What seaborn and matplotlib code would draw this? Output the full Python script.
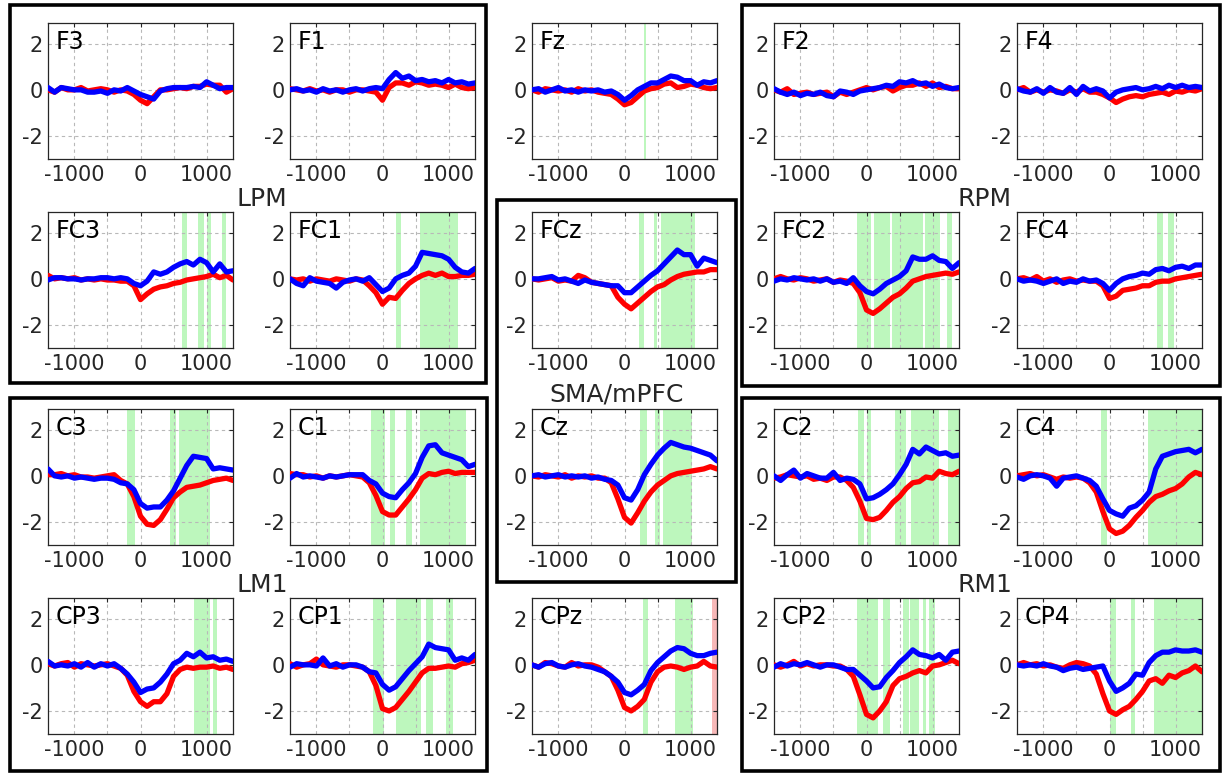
import numpy as np
import pandas as pd
import matplotlib
matplotlib.use('Agg')
import matplotlib.pyplot as plt
from matplotlib.patches import Rectangle
import seaborn as sns

# time axis (ms)
times = list(range(-1400, 1401, 100))

# ---- ERP traces (red = condition A, blue = condition B) ----
F3_red = [0, -0.1, 0.1, 0, 0, 0.1, -0.05, 0, 0.05, 0, -0.1, 0, -0.05, -0.2, -0.45, -0.6, -0.3, 0, 0, 0.05, 0.1, 0.05, 0.15, 0.15, 0.25, 0.2, 0.2, -0.1, 0.05]
F3_blue = [0.1, -0.1, 0.1, 0.05, 0, 0, -0.1, -0.1, -0.05, -0.15, 0, -0.05, 0.1, -0.05, -0.2, -0.3, -0.4, -0.05, 0.05, 0.1, 0.1, 0.1, 0.15, 0.1, 0.35, 0.2, 0.05, 0.1, 0.1]
F1_red = [0.05, 0, -0.05, 0.05, -0.05, 0, -0.1, 0, 0, -0.1, 0, 0, -0.05, -0.1, -0.45, 0.1, 0.3, 0.3, 0.2, 0.35, 0.3, 0.2, 0.25, 0.2, 0.1, 0.25, 0.1, 0.05, 0.1]
F1_blue = [0, 0.05, -0.05, 0, -0.1, 0.05, -0.05, 0, -0.1, 0, 0.05, -0.05, 0.05, 0.1, 0.05, 0.45, 0.75, 0.5, 0.6, 0.4, 0.45, 0.35, 0.4, 0.3, 0.45, 0.3, 0.35, 0.25, 0.3]
Fz_red = [0, -0.1, 0.05, 0, -0.05, 0, -0.1, 0.05, -0.05, 0, -0.1, -0.15, -0.2, -0.4, -0.65, -0.55, -0.3, -0.05, 0.05, 0.1, 0.25, 0.3, 0.1, 0.15, 0.25, 0.2, 0.1, 0.05, 0.1]
Fz_blue = [0, 0.05, -0.1, 0, 0.1, -0.05, 0, -0.1, 0, -0.05, 0, -0.1, -0.05, -0.2, -0.45, -0.25, 0, 0.15, 0.3, 0.3, 0.45, 0.6, 0.55, 0.4, 0.4, 0.2, 0.35, 0.3, 0.4]
F2_red = [0, -0.1, 0.05, -0.2, -0.15, -0.1, -0.2, -0.15, -0.1, -0.3, -0.1, -0.2, -0.1, 0, 0.1, 0, 0.1, 0.15, -0.05, 0.1, 0.2, 0.2, 0.3, 0.15, 0.3, 0.1, 0.15, 0.05, 0.05]
F2_blue = [0.05, -0.1, -0.2, -0.1, -0.25, -0.15, -0.2, -0.1, -0.25, -0.3, -0.05, -0.1, -0.2, -0.05, 0, 0.05, 0.1, 0.2, 0.15, 0.35, 0.3, 0.4, 0.25, 0.3, 0.15, 0.25, 0.1, 0.05, 0.1]
F4_red = [0, 0.1, -0.1, 0, -0.1, 0, -0.05, -0.15, 0, -0.1, 0.05, -0.1, -0.1, -0.2, -0.35, -0.55, -0.4, -0.3, -0.25, -0.3, -0.2, -0.15, -0.1, -0.2, -0.05, -0.1, 0, -0.05, 0.05]
F4_blue = [0.05, -0.05, -0.1, 0.05, -0.15, 0.1, -0.1, -0.15, 0.1, -0.2, 0.15, -0.05, 0.05, -0.05, -0.35, -0.1, 0, 0.05, 0.1, 0, 0.05, 0.15, 0.05, 0.2, 0.1, 0.2, 0.1, 0.15, 0.1]

FC3_red = [0.15, 0, 0.05, 0, 0.05, -0.05, 0, -0.05, 0, -0.05, -0.05, -0.1, -0.1, -0.3, -0.9, -0.65, -0.45, -0.35, -0.3, -0.2, -0.15, -0.05, 0, 0.05, 0.1, 0.2, 0.05, 0.15, -0.05]
FC3_blue = [-0.05, 0.05, 0.05, 0, 0, -0.05, 0, 0, 0.05, 0.05, 0, 0.05, 0, -0.2, -0.3, -0.1, 0.3, 0.2, 0.3, 0.5, 0.65, 0.75, 0.6, 0.85, 0.7, 0.3, 0.65, 0.3, 0.35]
FC1_red = [0, -0.05, 0, -0.1, 0, -0.05, -0.1, 0, -0.05, -0.1, 0, -0.05, -0.3, -0.6, -1.1, -0.8, -0.85, -0.5, -0.2, 0, 0.15, 0.25, 0.15, 0.25, 0.1, 0.1, 0.15, 0.15, 0.2]
FC1_blue = [0, -0.2, -0.3, 0.05, -0.1, -0.15, -0.2, -0.4, -0.15, -0.05, 0, -0.1, 0.05, -0.25, -0.55, -0.4, 0, 0.15, 0.25, 0.55, 1.15, 1.1, 1.05, 1.0, 0.85, 0.5, 0.3, 0.25, 0.45]
FCz_red = [0, -0.05, 0, 0.05, -0.1, -0.05, -0.1, 0.15, 0.05, -0.15, -0.2, -0.25, -0.3, -0.8, -1.1, -1.3, -1.05, -0.8, -0.55, -0.35, -0.25, -0.05, 0.1, 0.2, 0.25, 0.3, 0.3, 0.4, 0.4]
FCz_blue = [0, 0, 0.05, 0.1, -0.05, 0, -0.1, -0.2, -0.05, -0.15, -0.2, -0.25, -0.3, -0.3, -0.6, -0.6, -0.35, -0.1, 0.15, 0.35, 0.65, 0.95, 1.25, 1.05, 1.05, 0.55, 0.9, 0.8, 0.7]
FC2_red = [0, 0.1, 0, -0.05, 0.05, 0, -0.1, -0.05, 0, -0.15, -0.05, -0.1, -0.2, -0.6, -1.35, -1.5, -1.3, -1.05, -0.8, -0.65, -0.4, -0.1, 0, 0.1, 0.15, 0.2, 0.25, 0.2, 0.3]
FC2_blue = [-0.1, 0, -0.05, 0.05, 0, -0.05, 0, -0.1, 0, -0.15, -0.1, -0.2, 0.05, -0.3, -0.55, -0.65, -0.45, -0.2, -0.05, 0.1, 0.35, 0.95, 0.85, 0.85, 1.0, 0.8, 0.75, 0.45, 0.7]
FC4_red = [0, 0.05, -0.05, 0.1, -0.1, 0, -0.15, -0.05, 0, -0.1, -0.05, -0.1, -0.1, -0.3, -0.85, -0.75, -0.5, -0.45, -0.4, -0.3, -0.3, -0.15, -0.1, -0.1, 0, 0.05, 0.1, 0.15, 0.2]
FC4_blue = [0, -0.1, -0.05, -0.1, -0.2, -0.1, 0, -0.2, -0.1, -0.15, 0, -0.1, -0.05, -0.2, -0.5, -0.2, 0, 0.1, 0.15, 0.25, 0.2, 0.4, 0.45, 0.35, 0.5, 0.55, 0.45, 0.6, 0.6]

C3_red = [0.05, 0.05, 0.1, 0, 0.05, -0.05, -0.05, -0.1, -0.05, 0, 0.05, -0.2, -0.35, -0.9, -1.75, -2.1, -2.15, -1.9, -1.45, -0.95, -0.7, -0.5, -0.45, -0.4, -0.3, -0.2, -0.15, -0.1, -0.2]
C3_blue = [0.3, 0, -0.05, 0, -0.1, -0.05, -0.1, -0.15, -0.1, -0.1, -0.15, -0.3, -0.35, -0.6, -1.2, -1.4, -1.35, -1.35, -1.05, -0.65, -0.1, 0.45, 0.85, 0.8, 0.75, 0.3, 0.35, 0.3, 0.25]
C1_red = [0.1, 0.05, 0.05, -0.05, 0, -0.1, 0, -0.05, 0, 0.05, 0, -0.05, -0.3, -0.85, -1.55, -1.7, -1.7, -1.35, -1.0, -0.6, -0.1, 0.1, 0.05, 0.15, 0.2, 0.1, 0.15, 0.15, 0.15]
C1_blue = [-0.1, 0.1, -0.05, 0, -0.05, -0.1, 0, -0.05, 0, 0.05, 0.05, 0.05, -0.2, -0.35, -0.75, -0.9, -0.95, -0.6, -0.3, 0.1, 0.8, 1.3, 1.35, 1.0, 0.9, 0.8, 0.7, 0.4, 0.5]
Cz_red = [0, -0.05, 0.05, 0, -0.05, 0.05, -0.1, 0, -0.05, 0, -0.1, -0.1, -0.3, -1.0, -1.8, -2.05, -1.6, -1.1, -0.7, -0.4, -0.2, 0, 0.1, 0.15, 0.2, 0.25, 0.3, 0.4, 0.3]
Cz_blue = [0, 0.05, -0.05, 0, 0.05, -0.05, 0, -0.05, 0, -0.1, -0.05, -0.15, -0.2, -0.4, -0.95, -1.05, -0.6, 0.05, 0.5, 0.9, 1.2, 1.45, 1.35, 1.25, 1.2, 1.1, 1.0, 0.9, 0.65]
C2_red = [-0.1, -0.05, 0.05, 0, -0.05, 0, -0.15, -0.1, -0.2, -0.05, -0.05, -0.2, -0.5, -1.1, -1.85, -1.9, -1.8, -1.5, -1.15, -0.9, -0.55, -0.3, -0.25, -0.05, -0.1, 0.2, 0.1, 0.05, 0.2]
C2_blue = [0, -0.2, 0.05, 0.25, -0.1, 0.1, 0, -0.1, -0.1, 0.15, -0.2, -0.1, -0.15, -0.35, -1.0, -0.95, -0.8, -0.6, -0.35, 0.05, 0.5, 1.15, 0.95, 1.25, 1.1, 0.95, 1.0, 0.85, 0.9]
C4_red = [0, 0.05, 0.1, 0, 0.05, -0.05, -0.15, -0.05, -0.1, -0.05, -0.1, -0.3, -0.7, -1.55, -2.3, -2.5, -2.4, -2.15, -1.8, -1.5, -1.15, -0.9, -0.8, -0.65, -0.55, -0.35, -0.05, 0.15, 0.05]
C4_blue = [-0.05, -0.15, 0, 0.05, 0, -0.1, -0.45, -0.1, -0.05, 0, -0.1, -0.2, -0.45, -1.0, -1.5, -1.65, -1.75, -1.4, -1.3, -1.05, -0.7, 0.3, 0.85, 0.95, 1.05, 1.1, 1.15, 1.0, 1.15]

CP3_red = [0.05, -0.05, 0.05, 0.1, -0.1, 0.05, 0, -0.05, 0, 0.05, -0.05, -0.15, -0.45, -1.15, -1.6, -1.8, -1.6, -1.6, -1.25, -0.5, -0.2, -0.1, -0.15, -0.1, -0.1, -0.05, -0.15, -0.1, -0.2]
CP3_blue = [0.15, -0.05, 0, -0.05, 0.05, -0.1, 0.1, -0.1, 0.05, -0.05, 0.05, -0.15, -0.4, -0.75, -1.2, -1.05, -1.0, -0.75, -0.4, 0.05, 0.2, 0.5, 0.35, 0.55, 0.3, 0.35, 0.2, 0.25, 0.15]
CP1_red = [0.05, -0.1, 0, 0.05, 0.25, 0, -0.05, -0.1, 0, 0, -0.05, -0.1, -0.3, -0.9, -1.9, -2.0, -1.85, -1.5, -1.15, -0.75, -0.35, -0.15, -0.15, -0.1, -0.05, -0.1, 0.05, 0.1, 0.2]
CP1_blue = [-0.1, 0.05, 0, 0, -0.05, 0.3, -0.05, 0.05, -0.1, 0, 0, -0.1, -0.3, -0.35, -0.85, -1.1, -0.95, -0.6, -0.25, 0.05, 0.35, 0.9, 0.75, 0.7, 0.65, 0.2, 0.3, 0.2, 0.45]
CPz_red = [0, -0.1, 0.1, 0.05, -0.05, -0.1, 0.1, -0.05, 0, 0, -0.1, -0.3, -0.5, -1.1, -1.85, -2.0, -1.8, -1.5, -0.75, -0.3, -0.1, -0.05, -0.1, -0.2, -0.1, -0.05, 0.15, -0.05, -0.1]
CPz_blue = [0, -0.1, 0.05, 0.1, -0.05, -0.1, 0, 0.05, -0.05, -0.1, -0.2, -0.3, -0.5, -0.75, -1.2, -1.3, -1.1, -0.85, -0.25, 0.1, 0.35, 0.6, 0.75, 0.7, 0.5, 0.4, 0.4, 0.5, 0.55]
CP2_red = [0, -0.1, 0, 0.15, -0.05, 0.05, -0.05, 0, 0, -0.05, -0.05, -0.2, -0.5, -1.3, -2.15, -2.3, -2.0, -1.6, -0.9, -0.6, -0.5, -0.35, -0.25, -0.35, -0.05, 0, 0.1, 0.2, 0.05]
CP2_blue = [-0.1, 0.05, -0.05, 0.05, 0, 0.1, 0, -0.1, 0, 0, -0.1, -0.2, -0.2, -0.45, -0.7, -1.0, -0.95, -0.55, -0.25, 0.1, 0.35, 0.65, 0.45, 0.4, 0.3, 0.45, 0.2, 0.55, 0.6]
CP4_red = [0, 0.1, 0, 0.05, -0.05, 0, -0.1, -0.15, 0, 0.1, 0.05, -0.05, -0.4, -1.25, -2.0, -2.15, -1.95, -1.8, -1.5, -1.15, -0.7, -0.6, -0.8, -0.45, -0.55, -0.35, -0.25, -0.05, -0.3]
CP4_blue = [0, -0.05, 0, -0.05, 0.05, -0.05, -0.1, -0.25, -0.15, -0.1, -0.2, -0.15, -0.1, -0.05, -0.7, -1.15, -1.0, -0.8, -0.4, -0.45, 0.1, 0.4, 0.55, 0.55, 0.65, 0.6, 0.6, 0.65, 0.55]

# significant windows (ms): green = B > A, pink = A > B
green_spans = {
    'Fz': [(290, 320)],
    'FC3': [(630, 700), (870, 960), (1005, 1065), (1235, 1295)],
    'FC1': [(200, 280), (560, 1140)],
    'FCz': [(215, 295), (440, 490), (555, 1060)],
    'FC2': [(-145, 65), (120, 350), (385, 850), (890, 1110), (1220, 1290)],
    'FC4': [(720, 810), (885, 975)],
    'C3': [(-200, -90), (445, 535), (590, 1050)],
    'C1': [(-170, 45), (120, 195), (350, 450), (560, 1270)],
    'Cz': [(240, 345), (465, 540), (585, 1025)],
    'C2': [(-125, -35), (5, 70), (435, 605), (675, 1100), (1230, 1400)],
    'C4': [(-130, -40), (590, 1400)],
    'CP3': [(815, 1045), (1100, 1160)],
    'CP1': [(-150, 30), (205, 585), (655, 770), (955, 1060)],
    'CPz': [(275, 350), (770, 1035)],
    'CP2': [(-145, 180), (255, 350), (555, 640), (655, 795), (855, 900), (950, 1030)],
    'CP4': [(10, 95), (325, 380), (680, 1400)],
}
red_spans = {'CPz': [(1325, 1400)]}

layout = [['F3', 'F1', 'Fz', 'F2', 'F4'],
          ['FC3', 'FC1', 'FCz', 'FC2', 'FC4'],
          ['C3', 'C1', 'Cz', 'C2', 'C4'],
          ['CP3', 'CP1', 'CPz', 'CP2', 'CP4']]

traces = {}
for row in layout:
    for name in row:
        traces[name] = (globals()[name + '_red'], globals()[name + '_blue'])

sns.set_style('white')
plt.rcParams['font.family'] = ['DejaVu Sans']

W, H = 1225, 773
fig = plt.figure(figsize=(W / 100, H / 100), dpi=100)

col_left = [48, 290, 532, 774, 1017]
row_top = [23, 212, 409, 598]
aw, ah = 185, 136

for r, row in enumerate(layout):
    for c, name in enumerate(row):
        ax = fig.add_axes([col_left[c] / W, 1 - (row_top[r] + ah) / H, aw / W, ah / H])
        red, blue = traces[name]
        df = pd.DataFrame({'time': times * 2,
                           'amp': red + blue,
                           'cond': ['A'] * len(times) + ['B'] * len(times)})
        for a, b in green_spans.get(name, []):
            ax.axvspan(a, b, color='#bdf7bd', lw=0, zorder=0.2)
        for a, b in red_spans.get(name, []):
            ax.axvspan(a, b, color='#f7b8b8', lw=0, zorder=0.2)
        sns.lineplot(data=df, x='time', y='amp', hue='cond',
                     palette={'A': '#ff0000', 'B': '#0000ff'},
                     linewidth=3.8, legend=False, ax=ax, zorder=3)
        ax.set_xlim(-1400, 1400)
        ax.set_ylim(-3, 2.9)
        ax.set_xticks([-1000, -500, 0, 500, 1000])
        ax.set_xticklabels(['-1000', '', '0', '', '1000'])
        ax.set_yticks([-2, 0, 2])
        ax.set_yticklabels(['-2', '0', '2'])
        ax.set_xlabel('')
        ax.set_ylabel('')
        ax.grid(True, linestyle=(0, (3, 3)), color='#b8b8b8', linewidth=0.8)
        ax.set_axisbelow(True)
        ax.tick_params(direction='in', length=3, labelsize=15, colors='#262626',
                       pad=4, top=True, right=True)
        for sp in ax.spines.values():
            sp.set_color('#262626')
            sp.set_linewidth(0.9)
        ax.text(0.04, 0.95, name, transform=ax.transAxes, fontsize=17,
                va='top', ha='left', color='black', zorder=5)

# group boxes (pixel coords: left, top, right, bottom)
boxes = [(10, 5, 486, 383), (497, 200, 736, 582), (742, 5, 1220, 386),
         (10, 398, 487, 771), (742, 398, 1220, 771)]
for x0, y0, x1, y1 in boxes:
    fig.patches.append(Rectangle((x0 / W, 1 - y1 / H), (x1 - x0) / W, (y1 - y0) / H,
                                 transform=fig.transFigure, fill=False,
                                 edgecolor='black', linewidth=2.6))

group_labels = [('LPM', 262, 199), ('RPM', 985, 199), ('SMA/mPFC', 617, 395),
                ('LM1', 262, 585), ('RM1', 985, 585)]
for txt, x, y in group_labels:
    fig.text(x / W, 1 - y / H, txt, ha='center', va='center', fontsize=18)

fig.savefig('out.png', dpi=100, facecolor='white')
